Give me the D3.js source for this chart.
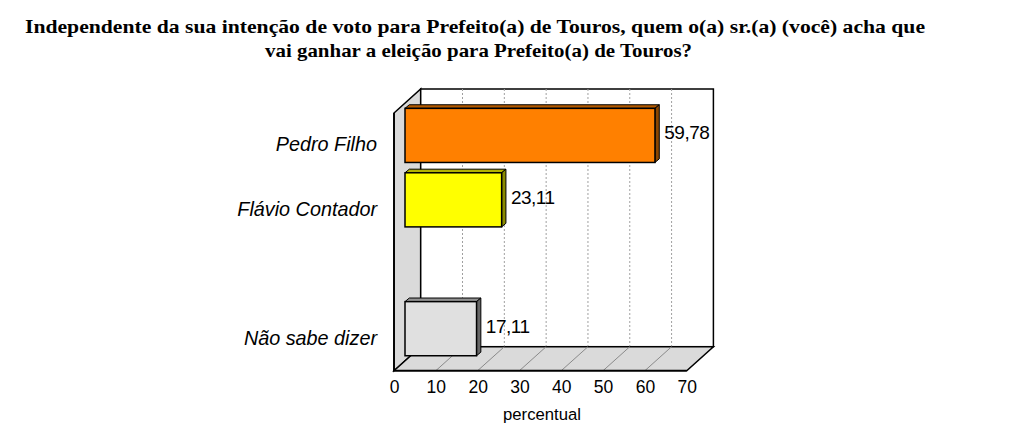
<!DOCTYPE html>
<html>
<head>
<meta charset="utf-8">
<script src="https://cdn.jsdelivr.net/npm/d3@7"></script>
<style>
  html, body { margin: 0; padding: 0; background: #fff; }
  svg { display: block; }
</style>
</head>
<body>
<div id="chart"></div>
<script>
// ---- data ----
const titleLines = [
  "Independente da sua intenção de voto para Prefeito(a) de Touros, quem o(a) sr.(a) (você) acha que",
  "vai ganhar a eleição para Prefeito(a) de Touros?"
];
const categories = ["Pedro Filho", "Flávio Contador", "", "Não sabe dizer"];
const values = [59.78, 23.11, null, 17.11];
const valueLabels = ["59,78", "23,11", "", "17,11"];
const barColors = ["#FF8000", "#FFFF00", "#FFFFFF", "#E0E0E0"];
const tickValues = [0, 10, 20, 30, 40, 50, 60, 70];
const axisTitle = "percentual";

// ---- layout ----
const W = 1024, H = 427;
const svg = d3.select("#chart").append("svg").attr("width", W).attr("height", H);

const frontLeft = 394, frontRight = 686.7;
const frontTop = 113, frontBottom = 370.7;
const depthX = 26.7, depthY = -24;     // wall depth vector
const barShiftX = 11, barShiftY = -9.8; // bar plane inside the depth
const barDX = 4.3, barDY = -3.6;        // bar's own thickness

const x = d3.scaleLinear().domain([0, 70]).range([0, frontRight - frontLeft]);
const y = d3.scaleBand().domain(categories.map((c, i) => i))
  .range([frontTop, frontBottom]).paddingInner(0.16).paddingOuter(0.08);

// title
const titleX = [475, 478.5], titleY = [33.3, 56.7], titleW = [900, 427];
svg.append("g").selectAll("text").data(titleLines).join("text")
  .attr("x", (d, i) => titleX[i]).attr("y", (d, i) => titleY[i])
  .attr("text-anchor", "middle")
  .attr("font-family", "'Liberation Serif', 'DejaVu Serif', serif")
  .attr("font-weight", "bold").attr("font-size", 19.5)
  .attr("textLength", (d, i) => titleW[i])
  .attr("lengthAdjust", "spacingAndGlyphs")
  .text(d => d);

const g = svg.append("g");
const P = pts => pts.map(p => p.join(",")).join(" ");

// left wall
g.append("polygon")
  .attr("points", P([[frontLeft, frontTop], [frontLeft + depthX, frontTop + depthY],
                     [frontLeft + depthX, frontBottom + depthY], [frontLeft, frontBottom]]))
  .attr("fill", "#DADADA").attr("stroke", "#000").attr("stroke-width", 1.5);

// back wall
g.append("rect")
  .attr("x", frontLeft + depthX).attr("y", frontTop + depthY)
  .attr("width", x(70)).attr("height", frontBottom - frontTop)
  .attr("fill", "#fff").attr("stroke", "#000").attr("stroke-width", 1.5);

// back wall grid
g.append("g").selectAll("line").data(tickValues.slice(1, -1)).join("line")
  .attr("x1", d => frontLeft + depthX + x(d)).attr("x2", d => frontLeft + depthX + x(d))
  .attr("y1", frontTop + depthY).attr("y2", frontBottom + depthY)
  .attr("stroke", "#a0a0a0").attr("stroke-width", 1).attr("stroke-dasharray", "2,2");

// floor
g.append("polygon")
  .attr("points", P([[frontLeft, frontBottom], [frontLeft + depthX, frontBottom + depthY],
                     [frontLeft + depthX + x(70), frontBottom + depthY], [frontLeft + x(70), frontBottom]]))
  .attr("fill", "#DADADA").attr("stroke", "#000").attr("stroke-width", 1.5);

g.append("g").selectAll("line").data(tickValues.slice(1, -1)).join("line")
  .attr("x1", d => frontLeft + x(d)).attr("y1", frontBottom)
  .attr("x2", d => frontLeft + depthX + x(d)).attr("y2", frontBottom + depthY)
  .attr("stroke", "#8a8a8a").attr("stroke-width", 1);

// re-stroke front edges of left wall and floor
g.append("polyline")
  .attr("points", P([[frontLeft, frontTop], [frontLeft, frontBottom], [frontLeft + x(70), frontBottom]]))
  .attr("fill", "none").attr("stroke", "#000").attr("stroke-width", 1.8);

// bars
const data = categories.map((c, i) => ({ c, i, v: values[i], lab: valueLabels[i], col: barColors[i] }))
  .filter(d => d.v != null);

const bars = g.append("g").selectAll("g").data(data).join("g");
bars.each(function(d) {
  const s = d3.select(this);
  const x0 = frontLeft + barShiftX, x1 = x0 + x(d.v);
  const y0 = y(d.i) + barShiftY, y1 = y0 + y.bandwidth();
  const c = d3.color(d.col);
  const top = c.darker(d.i === 3 ? 1.2 : 1.0), side = c.darker(d.i === 3 ? 2.2 : 1.7);
  // top face
  s.append("polygon")
    .attr("points", P([[x0, y0], [x0 + barDX, y0 + barDY], [x1 + barDX, y0 + barDY], [x1, y0]]))
    .attr("fill", top).attr("stroke", "#000").attr("stroke-width", 1);
  // side face
  s.append("polygon")
    .attr("points", P([[x1, y0], [x1 + barDX, y0 + barDY], [x1 + barDX, y1 + barDY], [x1, y1]]))
    .attr("fill", side).attr("stroke", "#000").attr("stroke-width", 1);
  // front face
  s.append("rect")
    .attr("x", x0).attr("y", y0).attr("width", x1 - x0).attr("height", y1 - y0)
    .attr("fill", d.col).attr("stroke", "#000").attr("stroke-width", 1.5);
  // value label
  s.append("text")
    .attr("x", x1 + barDX + 5).attr("y", (y0 + y1) / 2 - 1)
    .attr("dominant-baseline", "middle")
    .attr("font-family", "'Liberation Sans', Arial, sans-serif").attr("font-size", 19)
    .attr("letter-spacing", -0.5)
    .text(d.lab);
});

// category labels (front plane)
g.append("g").selectAll("text").data(categories.map((c, i) => ({ c, i })).filter(d => d.c)).join("text")
  .attr("x", 377).attr("y", d => y(d.i) + y.bandwidth() / 2 + 1)
  .attr("text-anchor", "end").attr("dominant-baseline", "middle")
  .attr("font-family", "'Liberation Sans', Arial, sans-serif")
  .attr("font-style", "italic").attr("font-size", 19.8)
  .text(d => d.c);

// x axis tick labels
const axis = d3.axisBottom(d3.scaleLinear().domain([0, 70]).range([frontLeft, frontRight]))
  .tickValues(tickValues).tickSize(0).tickPadding(0);
const ax = svg.append("g").attr("transform", `translate(0,${frontBottom + 15})`).call(axis);
ax.select(".domain").remove();
ax.selectAll("text")
  .attr("font-family", "'Liberation Sans', Arial, sans-serif").attr("font-size", 17.5)
  .attr("fill", "#000").attr("dy", "0.72em").attr("y", -5.4);

// axis title
svg.append("text").attr("x", 542).attr("y", 420).attr("text-anchor", "middle")
  .attr("font-family", "'Liberation Sans', Arial, sans-serif").attr("font-size", 16.7)
  .text(axisTitle);
</script>
</body>
</html>
